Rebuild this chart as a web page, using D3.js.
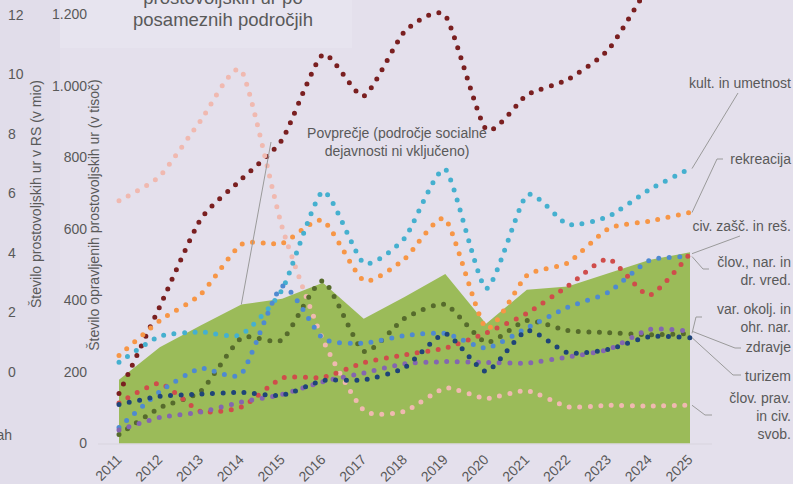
<!DOCTYPE html>
<html><head><meta charset="utf-8">
<script src="https://cdn.jsdelivr.net/npm/d3@7"></script>
<style>
html,body{margin:0;padding:0;background:#e4e0ec;}
svg{display:block;font-family:"Liberation Sans",Arial,sans-serif;}
</style></head>
<body><svg id="c" width="793" height="484"></svg>
<script>
// ---- data ----
const years = [2011,2012,2013,2014,2015,2016,2017,2018,2019,2020,2021,2022,2023,2024,2025];
const povprecje   = [178,269,330,389,405,450,349,410,474,335,430,439,476,513,535];
const socialna    = [140,383,627,739,850,1088,972,1152,1197,879,975,1018,1102,1280,1420];
const kultura     = [227,300,312,305,430,705,505,574,767,434,695,613,635,710,769];
const rekreacija  = [246,344,417,557,560,624,456,516,628,323,470,505,601,622,646];
const civZasc     = [113,168,90,102,183,185,226,248,267,309,364,440,516,415,531];
const clovNar     = [45,145,210,195,440,294,281,302,308,267,323,381,423,512,523];
const varOkolja   = [25,100,146,295,290,455,258,350,389,283,344,316,310,304,308];
const zdravje     = [38,73,88,116,137,173,197,223,229,227,225,242,263,319,314];
const turizem     = [109,132,138,143,135,176,178,212,307,202,316,254,263,299,296];
const clovPrav    = [679,748,903,1043,605,290,93,90,155,126,148,103,107,105,107];
const innerTicks  = [0,200,400,600,800,1000,1200];
const outerTicks  = [0,2,4,6,8,10,12];
const titleLines  = ["prostovoljskih ur po","posameznih področjih"];
const innerTitle  = "Število opravljenih prostovoljskih ur (v tisoč)";
const outerTitle  = "Število prostovoljskih ur v RS (v mio)";
const avgLabel    = ["Povprečje (področje socialne","dejavnosti ni vključeno)"];

const series = [
  {name:"socialna", values:socialna, color:"#7a1f20"},
  {name:"clovPrav", values:clovPrav, color:"#f0b9b0"},
  {name:"rekreacija", values:rekreacija, color:"#f79646"},
  {name:"kultura", values:kultura, color:"#45b0cf"},
  {name:"varOkolja", values:varOkolja, color:"#566b2c"},
  {name:"civZasc", values:civZasc, color:"#cf4d4b"},
  {name:"clovNar", values:clovNar, color:"#4f8ad0"},
  {name:"zdravje", values:zdravje, color:"#8466b0"},
  {name:"turizem", values:turizem, color:"#1f4478"}
];

// right-hand labels with leader lines (annotation layout)
const labels = [
  {s:"kultura",   lines:["kult. in umetnost"], by:88,  pts:[[738,93]]},
  {s:"rekreacija",lines:["rekreacija"], by:164, pts:[[717,159],[723,159]]},
  {s:"civZasc",   lines:["civ. zašč. in reš."], by:231, pts:[[740,236]]},
  {s:"clovNar",   lines:["člov., nar. in","dr. vred."], by:267, pts:[[703,269],[709,269]]},
  {s:"varOkolja", lines:["var. okolj. in","ohr. nar."], by:314, pts:[[696,317],[702,317]]},
  {s:"zdravje",   lines:["zdravje"], by:352, pts:[[735,348],[741,348]]},
  {s:"turizem",   lines:["turizem"], by:381, pts:[[733,375],[741,375]]},
  {s:"clovPrav",  lines:["člov. prav.","in civ.","svob."], by:403, pts:[[705,415],[712,415]]}
];

const svg = d3.select("#c");
const W = 793, H = 484;
const txt = "#595959";

// backgrounds
svg.append("rect").attr("width",W).attr("height",H).attr("fill","#e4e0ec");
svg.append("rect").attr("x",0).attr("y",0).attr("width",60).attr("height",H).attr("fill","#e1ddea");
svg.append("rect").attr("x",60).attr("y",0).attr("width",292).attr("height",48).attr("fill","#e7e4ef");

const x = d3.scalePoint().domain(years).range([119,690]);
const y = d3.scaleLinear().domain([0,1200]).range([443.5,14.5]);
const yOuter = d3.scaleLinear().domain([0,12]).range([372,15]);
const loc = d3.formatLocale({decimal:",",thousands:".",grouping:[3],currency:["","€"]});
const fmt = loc.format(",");

// title
svg.append("g").selectAll("text").data(titleLines).join("text")
  .attr("x",223).attr("y",(d,i)=>4+i*21.5).attr("text-anchor","middle")
  .attr("font-size",18.5).attr("fill",txt).text(d=>d);

// outer axis (left, in mio)
const gO = svg.append("g").attr("transform","translate(8,0)")
  .call(d3.axisRight(yOuter).tickValues(outerTicks).tickSize(0).tickPadding(0));
gO.select(".domain").remove();
gO.selectAll("text").attr("font-size",14).attr("fill",txt).attr("font-family","Liberation Sans, Arial, sans-serif");
svg.append("text").attr("x",12).attr("y",440).attr("text-anchor","end").attr("font-size",14).attr("fill",txt).text("ah");
svg.append("text").attr("transform","translate(41,194) rotate(-90)").attr("text-anchor","middle")
  .attr("font-size",14).attr("fill",txt).text(outerTitle);

// inner axis
const gI = svg.append("g").attr("transform","translate(90,0)")
  .call(d3.axisLeft(y).tickValues(innerTicks).tickFormat(fmt).tickSize(0).tickPadding(3));
gI.select(".domain").remove();
gI.selectAll("text").attr("font-size",14).attr("fill",txt).attr("font-family","Liberation Sans, Arial, sans-serif");
svg.append("text").attr("transform","translate(99,215) rotate(-90)").attr("text-anchor","middle")
  .attr("font-size",14).attr("fill",txt).text(innerTitle);

// green average area
svg.append("path").datum(povprecje)
  .attr("d", d3.area().x((d,i)=>x(years[i])).y0(y(0)).y1(d=>y(d)))
  .attr("fill","#9bbb59");

// baseline
svg.append("line").attr("x1",x(2011)-21).attr("x2",x(2025)+22).attr("y1",y(0)+0.5).attr("y2",y(0)+0.5)
  .attr("stroke","#d7d4de").attr("stroke-width",1.2);

// x axis
const gX = svg.append("g").attr("transform",`translate(0,${y(0)})`)
  .call(d3.axisBottom(x).tickSize(0).tickPadding(0));
gX.select(".domain").remove();
gX.selectAll("text").attr("font-size",14).attr("fill",txt).attr("font-family","Liberation Sans, Arial, sans-serif")
  .attr("text-anchor","end").attr("dy",null).attr("y",null)
  .attr("transform","translate(3,17) rotate(-45)");

// lines
const line = d3.line().x((d,i)=>x(years[i])).y(d=>y(d)).curve(d3.curveCardinal.tension(0.4));
svg.append("g").selectAll("path").data(series).join("path")
  .attr("d",d=>line(d.values)).attr("fill","none").attr("stroke",d=>d.color)
  .attr("stroke-width",5).attr("stroke-linecap","round").attr("stroke-dasharray","0 10.5");

// average label + leader
svg.append("line").attr("x1",271).attr("y1",142).attr("x2",x(2014)).attr("y2",y(povprecje[3]))
  .attr("stroke","#9a9a9a").attr("stroke-width",1);
svg.append("g").selectAll("text").data(avgLabel).join("text")
  .attr("x",397).attr("y",(d,i)=>138+i*18).attr("text-anchor","middle")
  .attr("font-size",14).attr("fill",txt).text(d=>d);

// right labels
const byName = Object.fromEntries(series.map(s=>[s.name,s]));
labels.forEach(l=>{
  const s = byName[l.s];
  const p0 = [x(2025)+2, y(s.values[s.values.length-1])];
  svg.append("path").attr("d", d3.line()([p0, ...l.pts])).attr("fill","none")
    .attr("stroke","#9a9a9a").attr("stroke-width",1);
  l.lines.forEach((t,i)=>{
    svg.append("text").attr("x",791).attr("y",l.by+i*18).attr("text-anchor","end")
      .attr("font-size",14).attr("fill",txt).text(t);
  });
});
</script></body></html>
